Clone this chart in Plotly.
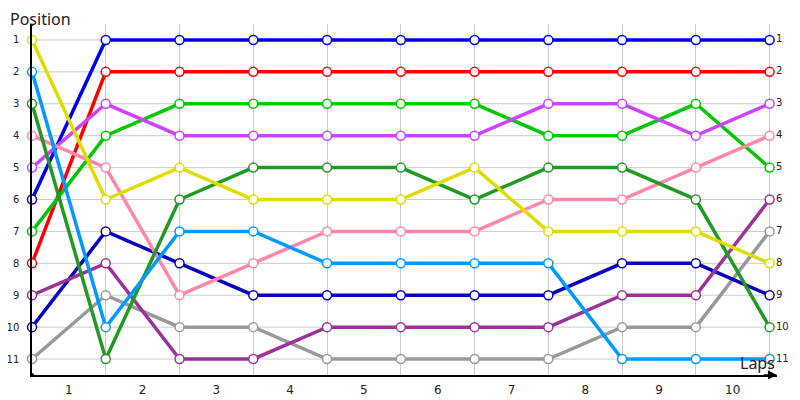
import plotly.graph_objects as go

laps = list(range(0, 11))
lap_labels = ["1", "2", "3", "4", "5", "6", "7", "8", "9", "10"]
positions = list(range(1, 12))

blue = [6, 1, 1, 1, 1, 1, 1, 1, 1, 1, 1]
red = [8, 2, 2, 2, 2, 2, 2, 2, 2, 2, 2]
green = [7, 4, 3, 3, 3, 3, 3, 4, 4, 3, 5]
violet = [5, 3, 4, 4, 4, 4, 4, 3, 3, 4, 3]
pink = [4, 5, 9, 8, 7, 7, 7, 6, 6, 5, 4]
yellow = [1, 6, 5, 6, 6, 6, 5, 7, 7, 7, 8]
darkgreen = [3, 11, 6, 5, 5, 5, 6, 5, 5, 6, 10]
skyblue = [2, 10, 7, 7, 8, 8, 8, 8, 11, 11, 11]
navy = [10, 7, 8, 9, 9, 9, 9, 9, 8, 8, 9]
plum = [9, 8, 11, 11, 10, 10, 10, 10, 9, 9, 6]
gray = [11, 9, 10, 10, 11, 11, 11, 11, 10, 10, 7]

series = [
    (gray, "#999999"),
    (navy, "#0a00bb"),
    (plum, "#993399"),
    (red, "#ff0000"),
    (green, "#00c800"),
    (blue, "#0000f0"),
    (violet, "#cc44ff"),
    (pink, "#ff88aa"),
    (darkgreen, "#229922"),
    (skyblue, "#0099ff"),
    (yellow, "#dddd00"),
]

fig = go.Figure()
for vals, col in series:
    fig.add_trace(go.Scatter(
        x=laps, y=vals, mode="lines+markers",
        line=dict(color=col, width=3.5),
        marker=dict(size=9, color="white", line=dict(color=col, width=1.5)),
        showlegend=False, hoverinfo="skip", cliponaxis=False,
    ))

# end labels next to final points
final_pos = [s[0][-1] for s in series]
fig.add_trace(go.Scatter(
    x=[laps[-1]] * len(final_pos), y=final_pos, mode="text",
    text=["  " + str(p) for p in final_pos], textposition="middle right",
    textfont=dict(family="DejaVu Sans", size=10, color="#222222"),
    showlegend=False, hoverinfo="skip", cliponaxis=False,
))

shapes = []
for p in positions:
    shapes.append(dict(type="line", xref="x", yref="y", x0=laps[0], x1=laps[-1], y0=p, y1=p,
                       line=dict(color="#cccccc", width=1), layer="below"))
for yy in [0.5, 11.5]:
    shapes.append(dict(type="circle", xref="x", yref="y", xsizemode="pixel", ysizemode="pixel",
                       xanchor=0, yanchor=yy, x0=-2, x1=2, y0=-2, y1=2,
                       fillcolor="black", line=dict(color="black", width=0)))

fig.update_layout(
    width=800, height=400,
    margin=dict(l=24, r=31, t=16, b=33, autoexpand=False),
    paper_bgcolor="white", plot_bgcolor="white",
    font=dict(family="DejaVu Sans", size=11, color="#222222"),
    shapes=shapes,
    xaxis=dict(
        range=[0, 10.1], tickvals=[i + 0.5 for i in range(10)], ticktext=lap_labels,
        showgrid=False, zeroline=False, showline=True, linecolor="black", linewidth=1.5,
        ticks="", ticklabelstandoff=3, automargin=False,
        minor=dict(tick0=0, dtick=1, showgrid=True, gridcolor="#cccccc", gridwidth=1, ticks=""),
        tickfont=dict(size=12, color="#222222"),
    ),
    yaxis=dict(
        range=[11.5, 0.5], tickvals=positions, ticktext=[str(p) for p in positions],
        showgrid=False, zeroline=False, showline=True, linecolor="black", linewidth=1.5,
        ticks="", ticklabelstandoff=9, automargin=False, tickfont=dict(size=10, color="#222222"),
    ),
    annotations=[
        dict(text="Position", xref="paper", yref="paper", x=-0.032, y=1.0, xanchor="left",
             yanchor="bottom", showarrow=False, yshift=-8,
             font=dict(family="Noto Sans", size=16, color="#222222")),
        dict(text="Laps", xref="x", yref="y", x=10.1, y=11.5, xanchor="right", yanchor="bottom",
             showarrow=False, yshift=-1,
             font=dict(family="Noto Sans", size=16, color="#222222")),
        dict(text="", xref="x", yref="y", x=10.1, y=11.5, axref="x", ayref="y", ax=9.9, ay=11.5,
             showarrow=True, arrowhead=2, arrowsize=1.2, arrowwidth=1.5, arrowcolor="black"),
    ],
)

fig.write_html("out.html")
